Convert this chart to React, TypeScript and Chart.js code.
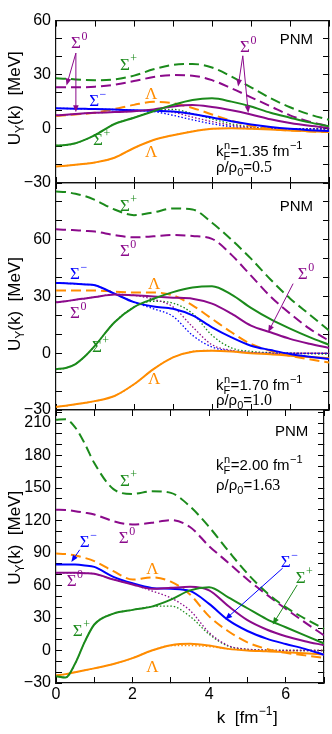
import React, { useEffect, useRef } from "react";
import { Chart, registerables } from "chart.js";

Chart.register(...registerables);

const W = 332;
const H = 734;

const GREEN = "#1b8a1b";
const PURPLE = "#8b0a8b";
const BLUE = "#0000ff";
const ORANGE = "#ff8c00";

// common momentum grid k [fm^-1]
const K = [0, 0.25, 0.5, 0.75, 1, 1.5, 2, 2.5, 3, 3.5, 4, 4.5, 5, 5.5, 6, 6.5, 7];

// ---- panel 1 : kF = 1.35, rho/rho0 = 0.5 ----
const P1_SP_DASH = [28, 27.8, 27.4, 27.1, 27, 27.4, 29.5, 33, 35.5, 36, 34, 29, 23, 17, 12, 8, 5];
const P1_S0_DASH = [23, 23, 23, 23.1, 23.4, 24.5, 26.5, 28.7, 29.8, 29.5, 27, 22.5, 17.5, 12.5, 7.5, 4, 1.5];
const P1_L_DASH = [7.1, 7.5, 8, 8.4, 8.9, 11, 13.3, 15, 14.2, 11.6, 8, 4.5, 1.6, 0, -0.9, -1.4, -1.8];
const P1_SM = [11.4, 11.3, 11.2, 11.1, 11, 10.7, 10.3, 10.1, 9.6, 8.3, 6.3, 4.2, 2.4, 1, 0, -0.7, -1.2];
const P1_S0 = [7.5, 7.8, 8.2, 8.6, 8.9, 9.3, 9.8, 10.8, 12.4, 13.2, 12.1, 10.3, 8, 5.3, 3.2, 1.7, 0.6];
const P1_SP = [-9.2, -9, -8, -6, -3.5, 2.7, 6.2, 9.8, 13.3, 16, 16.9, 15.1, 12.4, 8.9, 6.2, 3.6, 1.4];
const P1_L = [-20.8, -20.4, -19.9, -19.3, -18.6, -16, -10.6, -6.2, -3.5, -1.4, 0, 0.4, 0, -0.4, -0.9, -1.3, -1.8];
const P1_SM_DOT = [11.4, 11.3, 11.2, 11.1, 11, 10.7, 10.3, 9.6, 7.5, 5, 2.8, 1.2, 0.3, 0, 0, 0, 0];
const P1_S0_DOT = [7.5, 7.8, 8.2, 8.6, 8.9, 9.3, 9.8, 10.4, 9.2, 6.5, 4, 2, 0.8, 0.2, 0, 0, 0];
const P1_SP_DOT = [-9.2, -9, -8, -6, -3.5, 2.7, 6.2, 9.8, 10.8, 8.5, 5.5, 2.8, 1, 0.3, 0, 0, 0];
const P1_L_DOT = [-20.8, -20.4, -19.9, -19.3, -18.6, -16, -10.6, -6.2, -3.5, -1.3, 0, 0.3, 0.1, 0, 0, 0, 0];

// ---- panel 2 : kF = 1.70, rho/rho0 = 1.0 ----
const P2_SP_DASH = [85.5, 85.2, 84.3, 83, 81, 76, 73, 74.5, 76.5, 76, 69, 60, 50, 39, 29, 20.5, 12];
const P2_S0_DASH = [65.5, 65.3, 65, 64.7, 64.3, 62.5, 61.3, 61.8, 62.5, 62, 60.5, 52, 41, 30, 21, 13, 6.6];
const P2_L_DASH = [33.2, 33.2, 33.2, 33.2, 33.2, 32.6, 32.1, 32.1, 30.6, 25.3, 18.2, 11.1, 4.9, 1.3, -1.3, -3.2, -4.9];
const P2_SM = [37.1, 37, 36.7, 36.4, 35.9, 31.5, 27, 24.7, 23.5, 20, 13.7, 8.4, 4, 1.7, -0.4, -1.8, -3.1];
const P2_S0 = [27, 27.5, 28.3, 29, 29.7, 31.1, 30.6, 30, 29.4, 28.8, 26.2, 20.9, 14.6, 11.1, 7.6, 5, 2.8];
const P2_SP = [-8.4, -7.8, -5.7, -1.5, 4, 16.4, 24.4, 28.8, 32.3, 34.7, 35.4, 31, 24, 18, 13, 8.5, 4.5];
const P2_L = [-28.3, -27.8, -27, -26.2, -25.3, -22.6, -16.4, -8.4, -2.2, 0.8, 1.3, 0.9, 0, -0.5, -1.3, -2, -2.6];
const P2_SM_DOT = [37.1, 37, 36.7, 36.4, 35.9, 31.5, 27, 23.5, 19.5, 9.5, 3.3, 1.2, 0.3, 0, 0, 0, 0];
const P2_S0_DOT = [27, 27.5, 28.3, 29, 29.7, 31.1, 30.6, 28.5, 24.5, 14, 4.5, 1.5, 0.4, 0, 0, 0, 0];
const P2_SP_DOT = [-8.4, -7.8, -5.7, -1.5, 4, 16.4, 24.4, 27.5, 26.5, 21, 9.5, 2.8, 1, 0.3, 0, -0.3, -0.5];
const P2_L_DOT = [-28.3, -27.8, -27, -26.2, -25.3, -22.6, -16.4, -8.4, -2.2, 1, 1.5, 1, 0.3, 0, 0, 0, 0];

// ---- panel 3 : kF = 2.00, rho/rho0 = 1.63 ----
const P3_SP_DASH = [213, 213.5, 206, 191, 173, 149, 144.5, 147, 145.5, 133, 114, 92, 71, 53.5, 40, 29.5, 20];
const P3_S0_DASH = [130, 129.7, 128.6, 127.2, 125.5, 119.4, 116.3, 117.9, 120.3, 114, 96.3, 81, 65.5, 51.7, 38.5, 26, 14];
const P3_L_DASH = [89.5, 89, 87.7, 85.5, 82.5, 73.2, 65.5, 67.5, 63.5, 51.7, 31.5, 17.8, 7.5, 1.5, -2.2, -4.5, -6.8];
const P3_SM = [79.4, 79.4, 79.3, 78.5, 77.2, 68, 62, 57.8, 57, 55, 43, 28, 18, 11, 6, 1.5, -4];
const P3_S0 = [71.7, 71.7, 71.7, 71.3, 70.8, 65.5, 61, 57, 57.9, 58.8, 55.5, 41, 28, 19.4, 13.2, 8.6, 4.9];
const P3_SP = [-23.7, -25, -12, 8, 24, 34, 37.5, 40.5, 47, 55.5, 58.5, 49, 39, 29, 21.5, 14, 6.5];
const P3_L = [-23, -21.8, -20, -18.3, -16.5, -12.5, -7, 0, 4.9, 6.2, 4.6, 1.5, 0, -0.7, -1.5, -2.6, -3.7];
const P3_S0_DOT = [71.7, 71.7, 71.7, 71.3, 70.8, 65.5, 61, 55, 48.5, 37, 16.5, 4.5, 1.2, 0.4, 0, 0, 0];
const P3_SP_DOT = [-23.7, -25, -12, 8, 24, 34, 37.5, 40.5, 41, 31.5, 15, 4, 1, 0.3, 0, 0, 0];
const P3_L_DOT = [-23, -21.8, -20, -18.3, -16.5, -12.5, -7, 0, 4.6, 4.5, 3.6, 1.5, 0.4, 0, 0, 0, 0];

// panel text values
const KF_TEXT = ["1.35", "1.70", "2.00"];
const RHO_TEXT = ["0.5", "1.0", "1.63"];
const Y_MIN = [-30, -30, -30];
const Y_MAX = [60, 90, 222];

type Style = "solid" | "dash" | "dot";
type Series = { values: number[]; color: string; style: Style };
type Note = { k: number; u: number; sym: string; sup: string; color: string };
type Arrow = { k1: number; u1: number; k2: number; u2: number; color: string };
type Panel = {
  idx: number;
  top: number;
  bottom: number;
  series: Series[];
  notes: Note[];
  arrows: Arrow[];
  pnmU: number;
  kfK: number;
  kfU: number;
  rhoU: number;
  titleU: number;
};

const S = (values: number[], color: string, style: Style): Series => ({ values, color, style });
const N = (k: number, u: number, sym: string, sup: string, color: string): Note => ({ k, u, sym, sup, color });
const A = (k1: number, u1: number, k2: number, u2: number, color: string): Arrow => ({ k1, u1, k2, u2, color });

const PANELS: Panel[] = [
  {
    idx: 0,
    top: 14,
    bottom: 183,
    series: [
      S(P1_SP, GREEN, "solid"), S(P1_S0, PURPLE, "solid"), S(P1_SM, BLUE, "solid"), S(P1_L, ORANGE, "solid"),
      S(P1_SP_DASH, GREEN, "dash"), S(P1_S0_DASH, PURPLE, "dash"), S(P1_L_DASH, ORANGE, "dash"),
      S(P1_SM_DOT, BLUE, "dot"), S(P1_S0_DOT, PURPLE, "dot"), S(P1_SP_DOT, GREEN, "dot"), S(P1_L_DOT, ORANGE, "dot"),
    ],
    notes: [
      N(0.385, 44.6, "Σ", "0", PURPLE), N(4.72, 42.6, "Σ", "0", PURPLE), N(1.64, 32.9, "Σ", "+", GREEN),
      N(0.85, 12.6, "Σ", "−", BLUE), N(2.28, 16.3, "Λ", "", ORANGE), N(0.95, -8.7, "Σ", "+", GREEN),
      N(2.28, -15.6, "Λ", "", ORANGE),
    ],
    arrows: [
      A(0.51, 42, 0.27, 24, PURPLE), A(0.51, 42, 0.51, 9.2, PURPLE),
      A(4.79, 40.5, 4.67, 23.5, PURPLE), A(4.79, 40.5, 4.93, 8.8, PURPLE),
    ],
    pnmU: 47.2,
    kfK: 4.1,
    kfU: -15.1,
    rhoU: -24.1,
    titleU: 17,
  },
  {
    idx: 1,
    top: 183,
    bottom: 410,
    series: [
      S(P2_SP, GREEN, "solid"), S(P2_S0, PURPLE, "solid"), S(P2_SM, BLUE, "solid"), S(P2_L, ORANGE, "solid"),
      S(P2_SP_DASH, GREEN, "dash"), S(P2_S0_DASH, PURPLE, "dash"), S(P2_L_DASH, ORANGE, "dash"),
      S(P2_SM_DOT, BLUE, "dot"), S(P2_S0_DOT, PURPLE, "dot"), S(P2_SP_DOT, GREEN, "dot"), S(P2_L_DOT, ORANGE, "dot"),
    ],
    notes: [
      N(1.64, 75, "Σ", "+", GREEN), N(1.64, 51.3, "Σ", "0", PURPLE), N(0.36, 39.1, "Σ", "−", BLUE),
      N(2.36, 33.8, "Λ", "", ORANGE), N(0.36, 18.4, "Σ", "0", PURPLE), N(0.92, 0.4, "Σ", "+", GREEN),
      N(2.36, -16.1, "Λ", "", ORANGE), N(6.2, 39.1, "Σ", "0", PURPLE),
    ],
    arrows: [A(6.08, 36.8, 5.44, 11.1, PURPLE)],
    pnmU: 75,
    kfK: 4.1,
    kfU: -19.6,
    rhoU: -27.6,
    titleU: 26,
  },
  {
    idx: 2,
    top: 410,
    bottom: 683,
    series: [
      S(P3_SP, GREEN, "solid"), S(P3_S0, PURPLE, "solid"), S(P3_SM, BLUE, "solid"), S(P3_L, ORANGE, "solid"),
      S(P3_SP_DASH, GREEN, "dash"), S(P3_S0_DASH, PURPLE, "dash"), S(P3_L_DASH, ORANGE, "dash"),
      S(P3_S0_DOT, PURPLE, "dot"), S(P3_SP_DOT, GREEN, "dot"), S(P3_L_DOT, ORANGE, "dot"),
    ],
    notes: [
      N(1.67, 152.3, "Σ", "+", GREEN), N(1.64, 98.8, "Σ", "0", PURPLE), N(0.62, 95.4, "Σ", "−", BLUE),
      N(2.36, 70.8, "Λ", "", ORANGE), N(0.28, 60, "Σ", "0", PURPLE), N(0.44, 13.8, "Σ", "+", GREEN),
      N(2.36, -20, "Λ", "", ORANGE), N(5.87, 77.3, "Σ", "−", BLUE), N(6.26, 62.5, "Σ", "+", GREEN),
    ],
    arrows: [
      A(0.62, 93, 0.4, 81.7, BLUE), A(5.92, 76, 4.42, 28.6, BLUE), A(6.3, 60.5, 5.66, 24, GREEN),
    ],
    pnmU: 197.8,
    kfK: 4.18,
    kfU: 167,
    rhoU: 148.6,
    titleU: 104,
  },
];

const SANS = '"Liberation Sans", Arial, sans-serif';
const SERIF = '"Liberation Serif", "Times New Roman", serif';

function drawArrow(ctx: CanvasRenderingContext2D, x1: number, y1: number, x2: number, y2: number, color: string) {
  const ang = Math.atan2(y2 - y1, x2 - x1);
  const len = 7;
  const hw = 2.8;
  ctx.strokeStyle = color;
  ctx.fillStyle = color;
  ctx.lineWidth = 1;
  ctx.setLineDash([]);
  ctx.beginPath();
  ctx.moveTo(x1, y1);
  ctx.lineTo(x2 - Math.cos(ang) * len * 0.8, y2 - Math.sin(ang) * len * 0.8);
  ctx.stroke();
  ctx.beginPath();
  ctx.moveTo(x2, y2);
  ctx.lineTo(x2 - Math.cos(ang) * len - Math.sin(ang) * hw, y2 - Math.sin(ang) * len + Math.cos(ang) * hw);
  ctx.lineTo(x2 - Math.cos(ang) * len + Math.sin(ang) * hw, y2 - Math.sin(ang) * len - Math.cos(ang) * hw);
  ctx.closePath();
  ctx.fill();
}

function drawSym(ctx: CanvasRenderingContext2D, x: number, y: number, sym: string, sup: string, color: string) {
  ctx.fillStyle = color;
  ctx.textAlign = "left";
  ctx.textBaseline = "alphabetic";
  ctx.font = `17px ${SERIF}`;
  ctx.fillText(sym, x, y);
  const w = ctx.measureText(sym).width;
  if (sup) {
    ctx.font = `12px ${SERIF}`;
    ctx.fillText(sup, x + w + 0.5, y - 8);
  }
}

function makeTextPlugin(p: Panel) {
  return {
    id: "panelText" + p.idx,
    afterDraw(chart: any) {
      const ctx: CanvasRenderingContext2D = chart.ctx;
      const xs = chart.scales.x;
      const ys = chart.scales.y;
      const X = (k: number) => xs.getPixelForValue(k);
      const Y = (u: number) => ys.getPixelForValue(u);
      ctx.save();
      for (const a of p.arrows) drawArrow(ctx, X(a.k1), Y(a.u1), X(a.k2), Y(a.u2), a.color);
      for (const n of p.notes) drawSym(ctx, X(n.k), Y(n.u), n.sym, n.sup, n.color);

      ctx.fillStyle = "#000";
      ctx.textBaseline = "alphabetic";
      // PNM
      ctx.font = `15px ${SANS}`;
      ctx.textAlign = "right";
      ctx.fillText("PNM", X(6.59), Y(p.pnmU));
      ctx.textAlign = "left";

      // k_F^n = ... fm^-1
      let x = X(p.kfK);
      let y = Y(p.kfU);
      ctx.font = `15px ${SANS}`;
      ctx.fillText("k", x, y);
      x += ctx.measureText("k").width;
      ctx.font = `11px ${SANS}`;
      ctx.fillText("F", x, y + 4);
      ctx.fillText("n", x + 0.5, y - 7);
      x += Math.max(ctx.measureText("F").width, ctx.measureText("n").width) + 0.5;
      ctx.font = `15px ${SANS}`;
      const main = "=" + KF_TEXT[p.idx] + " fm";
      ctx.fillText(main, x, y);
      x += ctx.measureText(main).width;
      ctx.font = `11px ${SANS}`;
      ctx.fillText("−1", x + 0.5, y - 7);

      // rho/rho0
      x = X(p.kfK);
      y = Y(p.rhoU);
      ctx.font = `15px ${SANS}`;
      ctx.fillText("ρ/ρ", x, y);
      x += ctx.measureText("ρ/ρ").width;
      ctx.font = `11px ${SANS}`;
      ctx.fillText("0", x, y + 4);
      x += ctx.measureText("0").width;
      ctx.font = `15px ${SANS}`;
      ctx.fillText("=", x, y);
      x += ctx.measureText("=").width;
      ctx.font = `16px ${SERIF}`;
      ctx.fillText(RHO_TEXT[p.idx], x, y);

      // y title (rotated)
      ctx.save();
      ctx.translate(20, Y(p.titleU));
      ctx.rotate(-Math.PI / 2);
      ctx.font = `17px ${SANS}`;
      const wU = ctx.measureText("U").width;
      const rest = "(k)  [MeV]";
      const wR = ctx.measureText(rest).width;
      ctx.font = `12px ${SANS}`;
      const wY = ctx.measureText("Y").width;
      let tx = -(wU + wY + wR) / 2;
      ctx.font = `17px ${SANS}`;
      ctx.fillText("U", tx, 0);
      tx += wU;
      ctx.font = `12px ${SANS}`;
      ctx.fillText("Y", tx, 4);
      tx += wY;
      ctx.font = `17px ${SANS}`;
      ctx.fillText(rest, tx, 0);
      ctx.restore();

      // x title on the bottom panel
      if (p.idx === 2) {
        let bx = X(4.2);
        const by = chart.chartArea.bottom + 40;
        ctx.font = `17px ${SANS}`;
        const t1 = "k  [fm";
        ctx.fillText(t1, bx, by);
        bx += ctx.measureText(t1).width;
        ctx.font = `12px ${SANS}`;
        ctx.fillText("−1", bx + 0.5, by - 8);
        bx += ctx.measureText("−1").width + 1;
        ctx.font = `17px ${SANS}`;
        ctx.fillText("]", bx, by);
      }
      ctx.restore();
    },
  };
}

function fmt(v: number) {
  return v < 0 ? "−" + Math.abs(v) : String(v);
}

function buildConfig(p: Panel): any {
  const isLast = p.idx === 2;
  const xh = isLast ? 51 : 0;
  const ymin = Y_MIN[p.idx];
  const ymax = Y_MAX[p.idx];
  const grid = { display: true, drawOnChartArea: false, drawTicks: true, tickLength: -6, color: "#000", lineWidth: 1 };
  const border = { display: true, color: "#111", width: 1.2 };
  const tickFont = { family: SANS, size: 16 };
  return {
    type: "line",
    data: {
      datasets: p.series.map((s) => ({
        data: K.map((k, i) => ({ x: k, y: s.values[i] })),
        borderColor: s.color,
        borderWidth: s.style === "dot" ? 1.3 : 2,
        borderDash: s.style === "dash" ? [10, 5] : s.style === "dot" ? [1.5, 2] : [],
        pointRadius: 0,
        fill: false,
        cubicInterpolationMode: "monotone",
        order: s.style === "solid" ? 0 : s.style === "dash" ? 1 : 2,
      })),
    },
    options: {
      animation: false,
      responsive: false,
      maintainAspectRatio: false,
      events: [],
      layout: { padding: { left: 0, right: 3, top: p.top, bottom: H - p.bottom - xh } },
      plugins: { legend: { display: false }, tooltip: { enabled: false }, title: { display: false } },
      scales: {
        x: {
          type: "linear",
          position: "bottom",
          min: 0,
          max: 7,
          grid,
          border,
          afterFit: (s: any) => {
            s.height = xh;
          },
          ticks: {
            display: isLast,
            stepSize: 1,
            autoSkip: false,
            maxRotation: 0,
            padding: 8,
            color: "#000",
            font: tickFont,
            callback: (v: number) => (v % 2 === 0 ? String(v) : ""),
          },
        },
        xTop: {
          type: "linear",
          position: "top",
          min: 0,
          max: 7,
          grid,
          border,
          afterFit: (s: any) => {
            s.height = 0;
          },
          ticks: { display: false, stepSize: 1, autoSkip: false },
        },
        y: {
          type: "linear",
          position: "left",
          min: ymin,
          max: ymax,
          grid,
          border,
          afterFit: (s: any) => {
            s.width = 56;
          },
          ticks: {
            stepSize: 10,
            autoSkip: false,
            includeBounds: false,
            padding: 11,
            color: "#000",
            font: tickFont,
            callback: (v: number) => (v % 30 === 0 && !(p.idx > 0 && v === ymax) ? fmt(v) : ""),
          },
        },
        yRight: {
          type: "linear",
          position: "right",
          min: ymin,
          max: ymax,
          grid,
          border,
          afterFit: (s: any) => {
            s.width = 0;
          },
          ticks: { display: false, stepSize: 10, autoSkip: false, includeBounds: false },
        },
      },
    },
    plugins: [makeTextPlugin(p)],
  };
}

function PanelCanvas({ panel }: { panel: Panel }) {
  const ref = useRef<HTMLCanvasElement | null>(null);
  useEffect(() => {
    if (!ref.current) return;
    const chart = new Chart(ref.current, buildConfig(panel));
    return () => chart.destroy();
  }, [panel]);
  return (
    <canvas
      ref={ref}
      width={W}
      height={H}
      style={{ position: "absolute", left: 0, top: 0, width: W, height: H }}
    />
  );
}

export default function App() {
  return (
    <div style={{ position: "absolute", left: 0, top: 0, width: W, height: H, background: "#fff" }}>
      {PANELS.map((p) => (
        <PanelCanvas key={p.idx} panel={p} />
      ))}
    </div>
  );
}
